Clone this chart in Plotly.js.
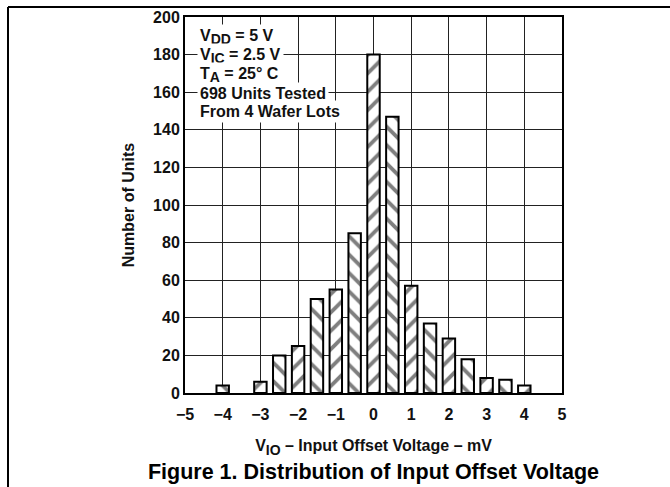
<!DOCTYPE html>
<html>
<head>
<meta charset="utf-8">
<script src="https://cdn.plot.ly/plotly-3.0.1.min.js"></script>
<style>
  html, body { margin: 0; padding: 0; background: #fff; }
  #chart { width: 670px; height: 487px; }
</style>
</head>
<body>
<div id="chart"></div>
<script>
// Input offset voltage bin centres (mV)
const offsetVoltage = [-4, -3, -2.5, -2, -1.5, -1, -0.5, 0, 0.5, 1, 1.5, 2, 2.5, 3, 3.5, 4];
// Number of units in each bin
const unitCounts = [4, 6, 20, 25, 50, 55, 85, 180, 147, 57, 37, 29, 18, 8, 7, 4];
// Condition notes
const conditionLines = [
  'V<sub><span style="font-size:14px">DD</span></sub> = 5 V',
  'V<sub><span style="font-size:14px">IC</span></sub> = 2.5 V',
  'T<sub><span style="font-size:14px">A</span></sub> = 25° C',
  '698 Units Tested',
  'From 4 Wafer Lots'
];
const xTickVals = [-5, -4, -3, -2, -1, 0, 1, 2, 3, 4, 5];
const yTickVals = [0, 20, 40, 60, 80, 100, 120, 140, 160, 180, 200];

const FONT = 'Liberation Sans, Arial, Helvetica, sans-serif';
const hatch = offsetVoltage.map((_, i) => (i % 2 ? '/' : '\\'));

const trace = {
  type: 'bar',
  x: offsetVoltage,
  y: unitCounts,
  width: 0.33,
  marker: {
    color: '#ffffff',
    line: { color: '#000000', width: 2 },
    pattern: { shape: hatch, fgcolor: '#000000', bgcolor: '#ffffff', size: 13, solidity: 0.3, fillmode: 'overlay' }
  },
  hoverinfo: 'x+y'
};

// px -> paper helpers (plot area: x 185..562, y 17..393)
const L = 185, R = 108, T = 17, B = 94, W = 670, H = 487;
const pw = W - L - R, ph = H - T - B;
const px = v => (v - L) / pw;
const py = v => (H - B - v) / ph;

const lineY = [37, 56, 75, 93, 111];
const annotations = conditionLines.map((t, i) => ({
  xref: 'paper', yref: 'paper',
  x: px(197), y: py(lineY[i]),
  xanchor: 'left', yanchor: 'middle',
  text: t, showarrow: false,
  bgcolor: '#ffffff', borderpad: 2,
  font: { family: FONT, size: 16, weight: 'bold', color: '#111' }
}));

const layout = {
  width: W, height: H,
  margin: { l: L, r: R, t: T, b: B, pad: 0 },
  paper_bgcolor: '#ffffff',
  plot_bgcolor: '#ffffff',
  showlegend: false,
  bargap: 0,
  title: {
    text: 'Figure 1. Distribution of Input Offset Voltage',
    font: { family: FONT, size: 21.5, weight: 'bold', color: '#000' },
    xref: 'paper', x: 0.5, xanchor: 'center',
    yref: 'container', y: 1 - 471 / H, yanchor: 'middle'
  },
  xaxis: {
    range: [-5, 5],
    tickvals: xTickVals,
    showgrid: true, gridcolor: '#222', gridwidth: 1,
    zeroline: false,
    showline: true, mirror: true, linecolor: '#000', linewidth: 2,
    ticks: 'outside', ticklen: 6, tickcolor: 'rgba(255,255,255,0)',
    tickfont: { family: FONT, size: 16, weight: 'bold', color: '#111' },
    title: {
      text: 'V<sub><span style="font-size:14px">IO</span></sub> – Input Offset Voltage – mV',
      font: { family: FONT, size: 16, weight: 'bold', color: '#111' },
      standoff: 18
    },
    fixedrange: true
  },
  yaxis: {
    range: [0, 200],
    tickvals: yTickVals,
    showgrid: true, gridcolor: '#222', gridwidth: 1,
    zeroline: false,
    showline: true, mirror: true, linecolor: '#000', linewidth: 2,
    ticks: '', ticklen: 0,
    tickfont: { family: FONT, size: 16, weight: 'bold', color: '#111' },
    title: {
      text: 'Number of Units',
      font: { family: FONT, size: 16, weight: 'bold', color: '#111' },
      standoff: 14
    },
    fixedrange: true
  },
  annotations: annotations,
  shapes: [
    { type: 'line', xref: 'paper', yref: 'paper', x0: px(8), x1: px(671), y0: py(7), y1: py(7), line: { color: '#000', width: 2 } },
    { type: 'line', xref: 'paper', yref: 'paper', x0: px(8), x1: px(8), y0: py(7), y1: py(488), line: { color: '#000', width: 2 } }
  ]
};

Plotly.newPlot('chart', [trace], layout, { displayModeBar: false, staticPlot: true });
</script>
</body>
</html>
